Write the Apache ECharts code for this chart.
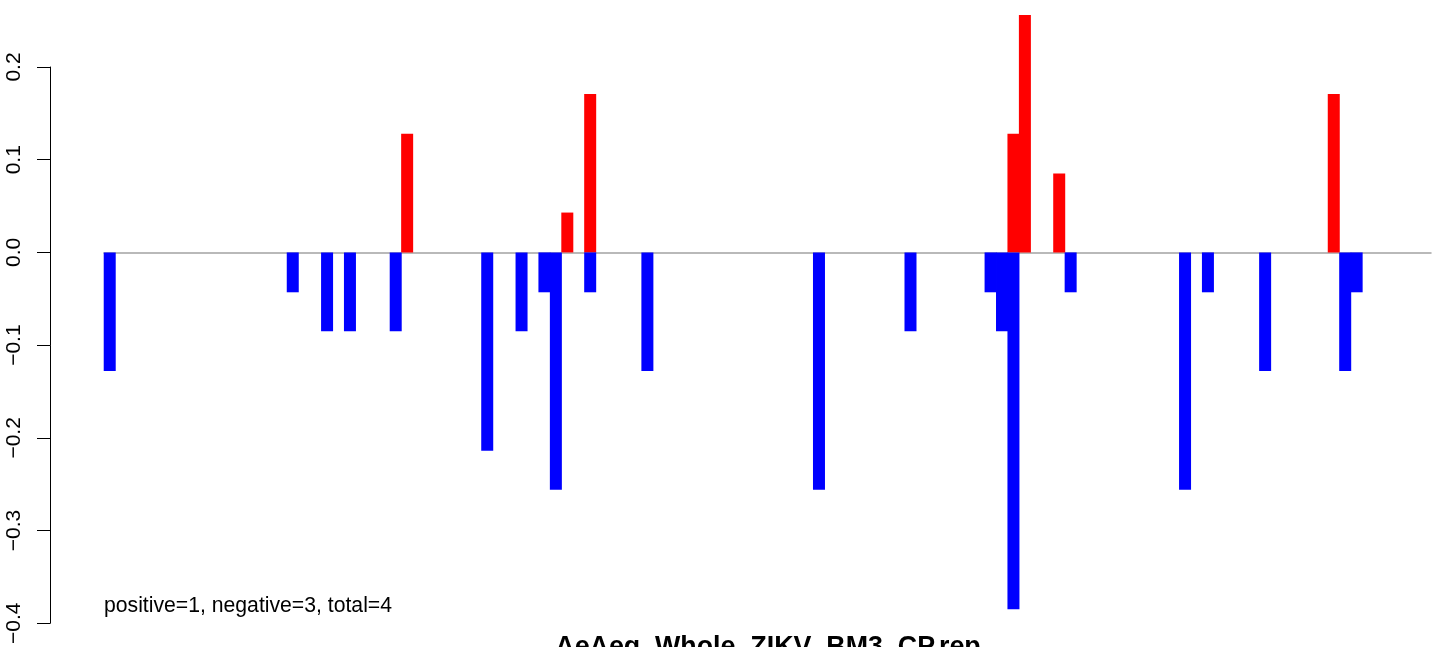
<!DOCTYPE html>
<html>
<head>
<meta charset="utf-8">
<script src="https://cdn.jsdelivr.net/npm/echarts@6/dist/echarts.min.js"></script>
<style>
html,body{margin:0;padding:0;background:#fff;}
#chart{width:1439px;height:647px;}
</style>
</head>
<body>
<div id="chart"></div>
<script>
// Positions 1..116 along the x axis
const categories = Array.from({length: 116}, (_, i) => String(i + 1));

// Positive (red) values per position
const positiveValues = [
  0, 0, 0, 0, 0, 0, 0, 0, 0, 0,
  0, 0, 0, 0, 0, 0, 0, 0, 0, 0,
  0, 0, 0, 0, 0, 0, 0.128, 0, 0, 0,
  0, 0, 0, 0, 0, 0, 0, 0, 0, 0,
  0.043, 0, 0.171, 0, 0, 0, 0, 0, 0, 0,
  0, 0, 0, 0, 0, 0, 0, 0, 0, 0,
  0, 0, 0, 0, 0, 0, 0, 0, 0, 0,
  0, 0, 0, 0, 0, 0, 0, 0, 0, 0.128,
  0.256, 0, 0, 0.085, 0, 0, 0, 0, 0, 0,
  0, 0, 0, 0, 0, 0, 0, 0, 0, 0,
  0, 0, 0, 0, 0, 0, 0, 0.171, 0, 0,
  0, 0, 0, 0, 0, 0
];

// Negative (blue) values per position
const negativeValues = [
  -0.128, 0, 0, 0, 0, 0, 0, 0, 0, 0,
  0, 0, 0, 0, 0, 0, -0.043, 0, 0, -0.085,
  0, -0.085, 0, 0, 0, -0.085, 0, 0, 0, 0,
  0, 0, 0, -0.214, 0, 0, -0.085, 0, -0.043, -0.256,
  0, 0, -0.043, 0, 0, 0, 0, -0.128, 0, 0,
  0, 0, 0, 0, 0, 0, 0, 0, 0, 0,
  0, 0, -0.256, 0, 0, 0, 0, 0, 0, 0,
  -0.085, 0, 0, 0, 0, 0, 0, -0.043, -0.085, -0.385,
  0, 0, 0, 0, -0.043, 0, 0, 0, 0, 0,
  0, 0, 0, 0, -0.256, 0, -0.043, 0, 0, 0,
  0, -0.128, 0, 0, 0, 0, 0, 0, -0.128, -0.043,
  0, 0, 0, 0, 0, 0
];

const yMin = -0.4, yMax = 0.2, yStep = 0.1;
const titleText = 'AeAeg_Whole_ZIKV_BM3_CP.rep';
const noteText = 'positive=1, negative=3, total=4';

const FONT = '"Liberation Sans", Arial, Helvetica, sans-serif';
const chart = echarts.init(document.getElementById('chart'), null, {renderer: 'canvas'});
chart.setOption({
  animation: false,
  backgroundColor: '#ffffff',
  grid: {left: 104, right: 8, top: 67, bottom: 20, containLabel: false},
  xAxis: {
    type: 'category',
    data: categories,
    boundaryGap: true,
    axisLine: {show: true, onZero: true, lineStyle: {color: '#a3a3a3', width: 1.5}},
    axisTick: {show: false},
    axisLabel: {show: false},
    splitLine: {show: false}
  },
  yAxis: {
    type: 'value',
    min: yMin, max: yMax, interval: yStep,
    offset: 54,
    axisLine: {show: true, lineStyle: {color: '#000', width: 1}},
    axisTick: {show: true, length: 13, lineStyle: {color: '#000', width: 1}},
    axisLabel: {
      show: true, rotate: 90, margin: 25,
      color: '#000', fontSize: 21, fontFamily: FONT,
      formatter: v => v.toFixed(1).replace('-', '\u2212')
    },
    splitLine: {show: false}
  },
  series: [
    {
      type: 'bar', name: 'positive', data: positiveValues,
      barWidth: 12, barGap: '-100%', clip: false,
      itemStyle: {color: '#ff0000'}
    },
    {
      type: 'bar', name: 'negative', data: negativeValues,
      barWidth: 12, barGap: '-100%', clip: false,
      itemStyle: {color: '#0000ff'}
    }
  ],
  graphic: [
    {
      type: 'text', left: 104, top: 596,
      style: {text: noteText, fill: '#000', font: '21.2px ' + FONT}
    },
    {
      type: 'text', x: 768, y: 634,
      style: {text: titleText, fill: '#000', font: 'bold 26.8px ' + FONT, align: 'center', verticalAlign: 'top'}
    }
  ]
});
</script>
</body>
</html>
